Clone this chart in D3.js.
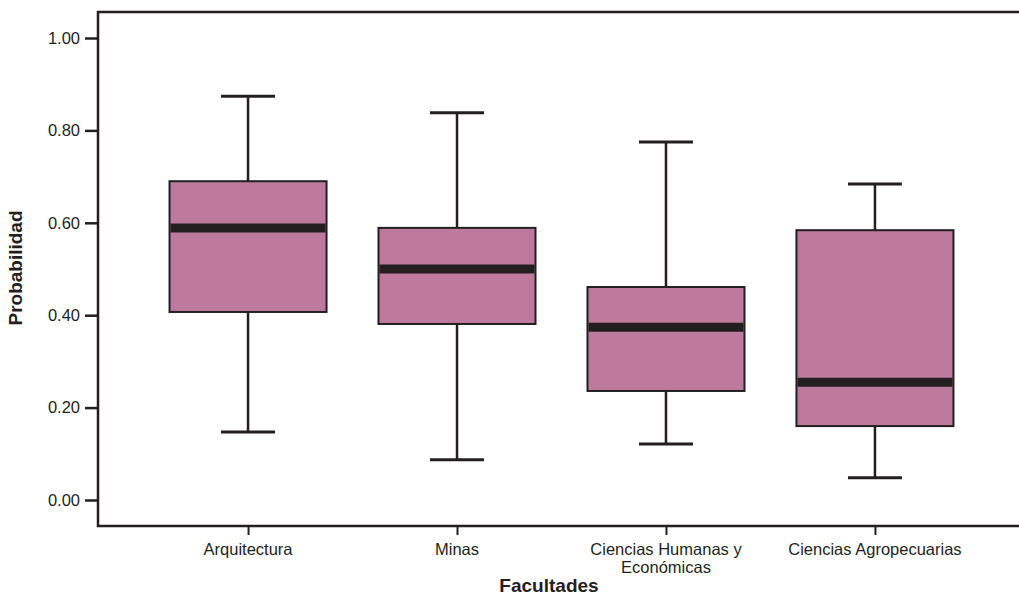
<!DOCTYPE html>
<html lang="es">
<head>
<meta charset="UTF-8">
<script src="https://cdn.jsdelivr.net/npm/d3@7"></script>
<style>
  body { margin: 0; background: #fff; }
  text { font-family: "Liberation Sans", Arial, sans-serif; fill: #231f20; }
</style>
</head>
<body>
<script>
  // datos
  var facultades = ["Arquitectura", "Minas", "Ciencias Humanas y Económicas", "Ciencias Agropecuarias"];
  var etiquetas = [["Arquitectura"], ["Minas"], ["Ciencias Humanas y", "Económicas"], ["Ciencias Agropecuarias"]];
  var minimos = [0.147, 0.087, 0.121, 0.048];
  var q1 = [0.407, 0.381, 0.236, 0.160];
  var medianas = [0.589, 0.500, 0.374, 0.255];
  var q3 = [0.690, 0.589, 0.461, 0.584];
  var maximos = [0.874, 0.838, 0.775, 0.684];
  var yTicks = [0, 0.2, 0.4, 0.6, 0.8, 1.0];

  var width = 1019, height = 596;
  var mLeft = 98, mTop = 12, mBottom = 526;
  var ink = '#231f20';

  var svg = d3.select('body').append('svg')
    .attr('width', width)
    .attr('height', height);

  var y = d3.scaleLinear().domain([0, 1]).range([500, 38]);
  var x = d3.scalePoint().domain(facultades).range([mLeft, 1025]).padding(0.718);

  var boxW = 157, capW = 54;

  var data = facultades.map(function(f, i) {
    return {name: f, min: minimos[i], q1: q1[i], med: medianas[i], q3: q3[i], max: maximos[i]};
  });

  var g = svg.selectAll('.box').data(data).enter().append('g');

  // bigotes
  g.append('line')
    .attr('x1', function(d) { return x(d.name); })
    .attr('x2', function(d) { return x(d.name); })
    .attr('y1', function(d) { return y(d.min); })
    .attr('y2', function(d) { return y(d.max); })
    .attr('stroke', ink).attr('stroke-width', 2.5);

  g.selectAll('.cap')
    .data(function(d) { return [d.min, d.max].map(function(v) { return {name: d.name, v: v}; }); })
    .enter().append('line')
    .attr('x1', function(d) { return x(d.name) - capW / 2; })
    .attr('x2', function(d) { return x(d.name) + capW / 2; })
    .attr('y1', function(d) { return y(d.v); })
    .attr('y2', function(d) { return y(d.v); })
    .attr('stroke', ink).attr('stroke-width', 3);

  g.append('rect')
    .attr('x', function(d) { return x(d.name) - boxW / 2; })
    .attr('width', boxW)
    .attr('y', function(d) { return y(d.q3); })
    .attr('height', function(d) { return y(d.q1) - y(d.q3); })
    .attr('fill', '#bd7a9d')
    .attr('stroke', ink).attr('stroke-width', 2);

  g.append('line')
    .attr('x1', function(d) { return x(d.name) - boxW / 2 + 1; })
    .attr('x2', function(d) { return x(d.name) + boxW / 2 - 1; })
    .attr('y1', function(d) { return y(d.med); })
    .attr('y2', function(d) { return y(d.med); })
    .attr('stroke', ink).attr('stroke-width', 9);

  // marco
  svg.append('path')
    .attr('d', 'M' + (width + 5) + ',' + mTop + 'H' + mLeft + 'V' + mBottom + 'H' + (width + 5))
    .attr('fill', 'none').attr('stroke', ink).attr('stroke-width', 2.5);

  // eje y
  var yAxis = svg.append('g')
    .attr('transform', 'translate(' + mLeft + ',0)')
    .call(d3.axisLeft(y).tickValues(yTicks).tickSize(13).tickPadding(5).tickFormat(d3.format('.2f')));
  yAxis.select('.domain').remove();
  yAxis.selectAll('line').attr('stroke', ink).attr('stroke-width', 2.5);
  yAxis.selectAll('text').style('font-size', '16.5px').style('font-family', '"Liberation Sans", Arial, sans-serif').attr('fill', ink);

  // eje x
  var xAxis = svg.append('g')
    .attr('transform', 'translate(0,' + mBottom + ')')
    .call(d3.axisBottom(x).tickSize(9).tickFormat(''));
  xAxis.select('.domain').remove();
  xAxis.selectAll('line').attr('stroke', ink).attr('stroke-width', 2);

  svg.selectAll('.xlab').data(facultades).enter().append('text')
    .attr('x', function(d) { return x(d); })
    .attr('y', 555)
    .attr('text-anchor', 'middle')
    .style('font-size', '16.5px')
    .each(function(d, i) {
      var t = d3.select(this);
      etiquetas[i].forEach(function(line, j) {
        t.append('tspan').attr('x', x(d)).attr('dy', j === 0 ? 0 : 18).text(line);
      });
    });

  svg.append('text')
    .attr('x', 549).attr('y', 592)
    .attr('text-anchor', 'middle')
    .style('font-size', '19px').style('font-weight', 'bold')
    .text('Facultades');

  svg.append('text')
    .attr('transform', 'translate(22,268) rotate(-90)')
    .attr('text-anchor', 'middle')
    .style('font-size', '19px').style('font-weight', 'bold')
    .text('Probabilidad');
</script>
</body>
</html>
